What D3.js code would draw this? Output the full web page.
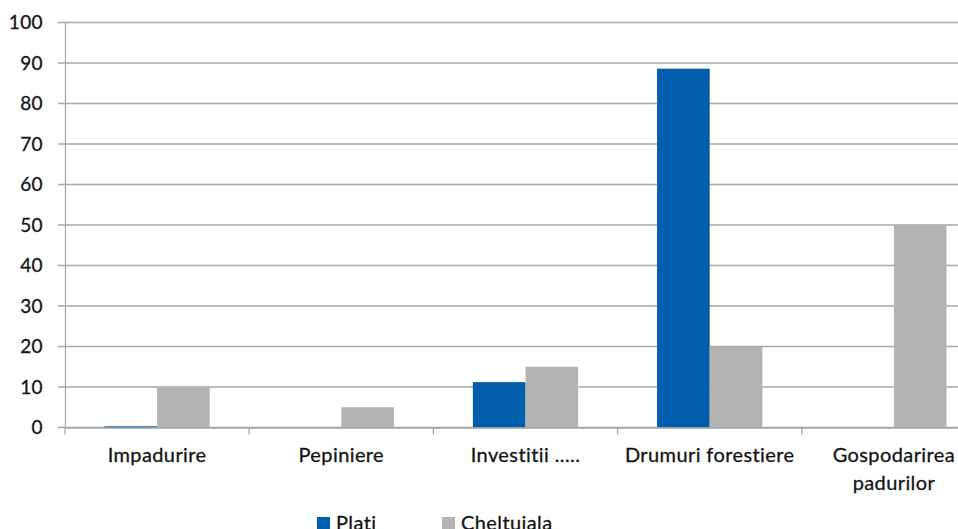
<!DOCTYPE html>
<html><head><meta charset="utf-8">
<script src="https://cdn.jsdelivr.net/npm/d3@7"></script>
<style>html,body{margin:0;padding:0;background:#fff;overflow:hidden}</style>
</head><body>
<svg id="c" width="958" height="529"></svg>
<script>
const categories = [["Impadurire"], ["Pepiniere"], ["Investitii ....."], ["Drumuri forestiere"], ["Gospodarirea", "padurilor"]];
const seriesNames = ["Plati", "Cheltuiala"];
const plati = [0.3, 0, 11.2, 88.6, 0];
const cheltuiala = [10, 5, 15, 20, 50];
const yTicks = [0, 10, 20, 30, 40, 50, 60, 70, 80, 90, 100];
const colors = ["#005EAD", "#B3B3B3"];

const svg = d3.select("#c");
const font = "Lato, 'Open Sans', sans-serif";
const txt = "#141414";
const L = 65, R = 986, T = 22.5, B = 427.5;
const keys = categories.map((c, i) => i);
const x = d3.scaleBand().domain(keys).range([L, R]).paddingInner(0).paddingOuter(0);
const bw = x.bandwidth() / 3.5;
const x1 = d3.scaleBand().domain(seriesNames).range([0, bw * 2]);
const y = d3.scaleLinear().domain([0, 100]).range([B, T]);

function styleText(sel, size) {
  sel.attr("font-family", font).attr("font-size", size).attr("fill", txt)
    .attr("stroke", txt).attr("stroke-width", 0.3).attr("letter-spacing", 0.4);
}

// gridlines
svg.append("g").selectAll("line").data(yTicks).join("line")
  .attr("x1", L - 7).attr("x2", R).attr("y1", d => y(d)).attr("y2", d => y(d))
  .attr("stroke", "#A6A6A6").attr("stroke-width", 1.3);

// y axis
const ya = svg.append("g").attr("transform", `translate(${L},0)`)
  .call(d3.axisLeft(y).tickValues(yTicks).tickSize(0).tickPadding(22));
ya.select(".domain").attr("stroke", "#A6A6A6").attr("stroke-width", 1.3);
styleText(ya.selectAll("text"), 19);

// bars
const series = [plati, cheltuiala];
series.forEach((vals, si) => {
  svg.append("g").selectAll("rect").data(vals).join("rect")
    .attr("x", (d, i) => x(i) + (x.bandwidth() - 2 * bw) / 2 + x1(seriesNames[si]))
    .attr("width", x1.bandwidth())
    .attr("y", d => y(d))
    .attr("height", d => y(0) - y(d))
    .attr("fill", colors[si]);
});

// x axis
const xa = svg.append("g").attr("transform", `translate(0,${B})`)
  .call(d3.axisBottom(x).tickSize(0).tickFormat(""));
xa.select(".domain").attr("stroke", "#A6A6A6").attr("stroke-width", 1.3);
// band boundary ticks
svg.append("g").selectAll("line").data(keys.concat([keys.length])).join("line")
  .attr("x1", d => L + d * x.bandwidth()).attr("x2", d => L + d * x.bandwidth())
  .attr("y1", B).attr("y2", B + 7).attr("stroke", "#A6A6A6").attr("stroke-width", 1.3);

// category labels
const lab = svg.append("g").selectAll("text").data(categories).join("text")
  .attr("x", (d, i) => x(i) + x.bandwidth() / 2)
  .attr("y", 462)
  .attr("text-anchor", "middle");
styleText(lab, 20);
lab.selectAll("tspan").data(d => d).join("tspan")
  .attr("x", function () { return this.parentNode.getAttribute("x"); })
  .attr("dy", (d, i) => i === 0 ? 0 : 28)
  .text(d => d);

// legend
const legX = [317, 442];
const lg = svg.append("g").selectAll("g").data(seriesNames).join("g")
  .attr("transform", (d, i) => `translate(${legX[i]},517)`);
lg.append("rect").attr("width", 13).attr("height", 13).attr("fill", (d, i) => colors[i]);
styleText(lg.append("text").attr("x", 19).attr("y", 13).text(d => d), 20);
</script>
</body></html>
